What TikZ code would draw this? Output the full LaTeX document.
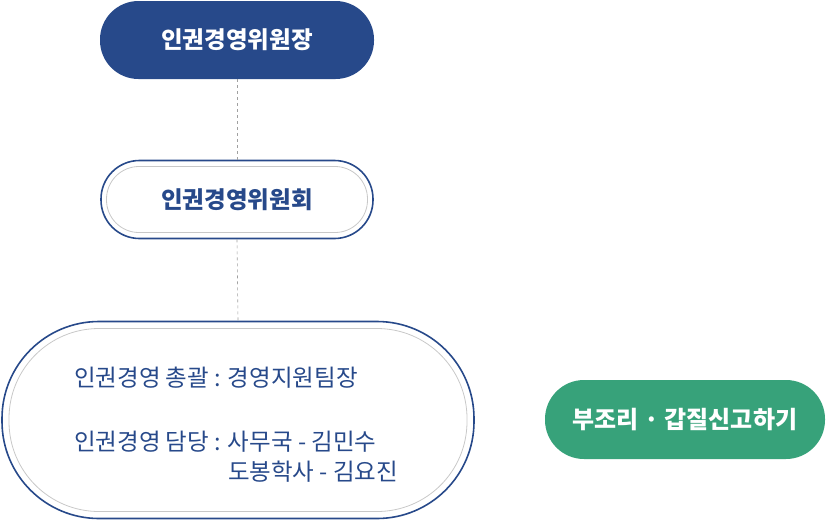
\documentclass[tikz,border=0pt]{standalone}
\usepackage{fontspec}
\newfontfamily\kr{Noto Sans CJK KR}
\definecolor{navy}{HTML}{27498A}
\definecolor{mint}{HTML}{37A27A}
\definecolor{ringgray}{HTML}{C8C8C8}
\definecolor{dashgray}{HTML}{A0A0A0}
\begin{document}
\begin{tikzpicture}[x=1pt,y=-1pt,
  pill/.style={inner sep=0pt, font=\kr\bfseries\fontsize{23.5}{26}\selectfont},
  ring/.style={draw=ringgray, line width=0.8pt, inner sep=0pt},
  link/.style={draw=dashgray, line width=0.6pt, dash pattern=on 3pt off 3pt},
  txt/.style={inner sep=0pt, anchor=base west, text=navy, font=\kr\fontsize{23.5}{26}\selectfont}]
\useasboundingbox (0,0) rectangle (826,520);
% top
\node[pill, fill=navy, text=white, minimum width=274pt, minimum height=78pt, rounded corners=38.5pt] (head) at (237,40) {인권경영위원장};
% committee
\node[pill, draw=navy, line width=1.6pt, text=navy, minimum width=272pt, minimum height=78pt, rounded corners=38.5pt] (comm) at (237,199.5) {인권경영위원회};
\node[ring, minimum width=261pt, minimum height=66pt, rounded corners=32.5pt] (commin) at (237,199.5) {};
% bottom
\node[draw=navy, line width=1.6pt, minimum width=472pt, minimum height=197pt, rounded corners=97pt, inner sep=0pt] (team) at (238,420) {};
\node[ring, minimum width=458pt, minimum height=183pt, rounded corners=90pt] (teamin) at (238,420) {};
\node[txt] (l1) at (74,386) {인권경영 총괄 : 경영지원팀장};
\node[txt] (l2) at (74,450) {인권경영 담당 : 사무국 - 김민수};
\node[txt] (l3) at (74,480) {\phantom{인권경영 담당 : }도봉학사 - 김요진};
% green
\node[pill, fill=mint, text=white, minimum width=280pt, minimum height=79pt, rounded corners=39pt, font=\kr\bfseries\fontsize{24}{26}\selectfont] (report) at (685,419.5) {부조리 · 갑질신고하기};
% links
\draw[link] (head.south) -- (comm.north);
\draw[link] (comm.south) -- (team.north);
\end{tikzpicture}
\end{document}
